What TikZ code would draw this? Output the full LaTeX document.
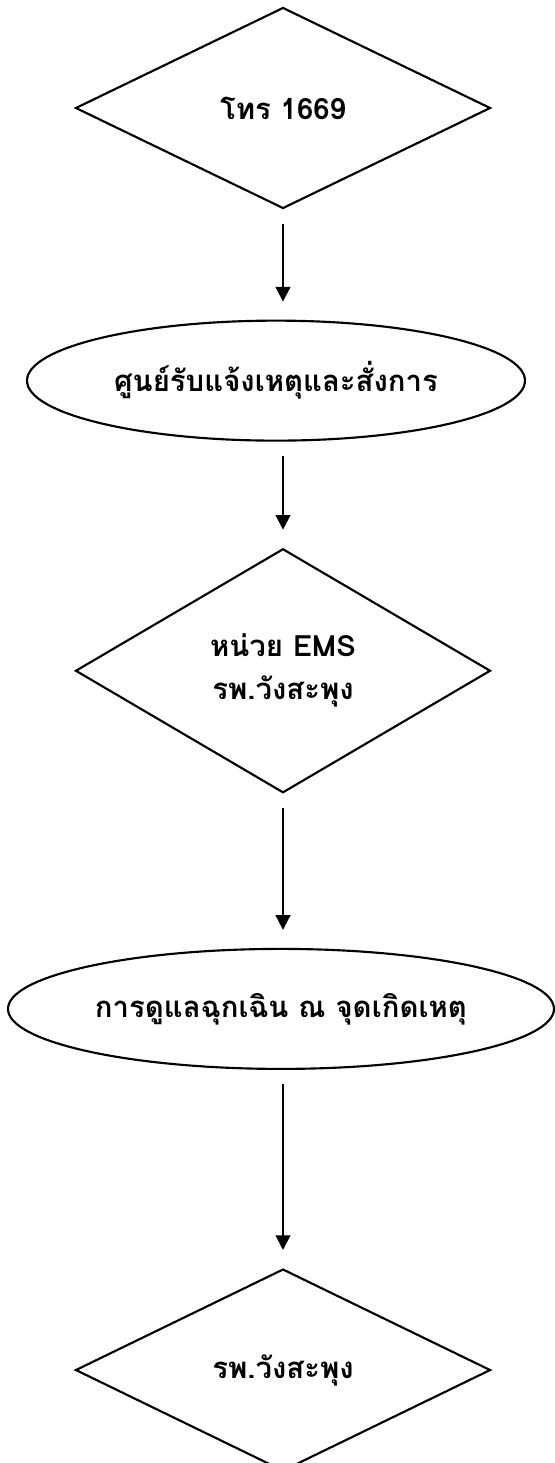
\documentclass[tikz,border=0pt]{standalone}
\usepackage{fontspec}
\newfontfamily\thaifont[Script=Thai]{Loma}
\usepackage{tikz}
\usetikzlibrary{positioning, shapes.geometric, arrows.meta}

\begin{document}
\begin{tikzpicture}[x=0.75pt, y=-0.75pt, >={Triangle[length=11pt, width=11pt]}, every node/.style={font=\thaifont\bfseries\fontsize{22}{32}\selectfont}]
    % Define the flowchart styles
    \tikzset{
        decision/.style={draw, diamond, aspect=2, line width=1.6pt, align=center, minimum width=311.25pt, inner sep=0pt},
        terminal/.style={draw, ellipse, line width=1.6pt, align=center, minimum height=90pt, inner sep=0pt},
        flow/.style={->, line width=1.5pt, shorten <=10.5pt, shorten >=13.5pt},
    }
    \useasboundingbox (0,0) rectangle (555,1463);

    % Nodes
    \node[decision, minimum height=150.75pt] (call) at (283,108) {โทร 1669};
    \node[terminal, minimum width=373.5pt, below=82.5pt of call, xshift=-5.25pt] (dispatch) {ศูนย์รับแจ้งเหตุและสั่งการ};
    \node[decision, minimum height=183pt, below=79.5pt of dispatch, xshift=5.25pt] (ems) {หน่วย EMS\\รพ.วังสะพุง};
    \node[terminal, minimum width=409.5pt, below=115.5pt of ems, xshift=-1.5pt] (onsite) {การดูแลฉุกเฉิน ณ จุดเกิดเหตุ};
    \node[decision, minimum height=151.5pt, below=148.5pt of onsite, xshift=1.5pt] (hosp) {รพ.วังสะพุง};

    % Arrows connecting the nodes
    \draw[flow] (call.south) -- (call.south |- dispatch.north);
    \draw[flow] (dispatch.south -| ems.north) -- (ems.north);
    \draw[flow] (ems.south) -- (ems.south |- onsite.north);
    \draw[flow] (onsite.south -| hosp.north) -- (hosp.north);

\end{tikzpicture}
\end{document}
